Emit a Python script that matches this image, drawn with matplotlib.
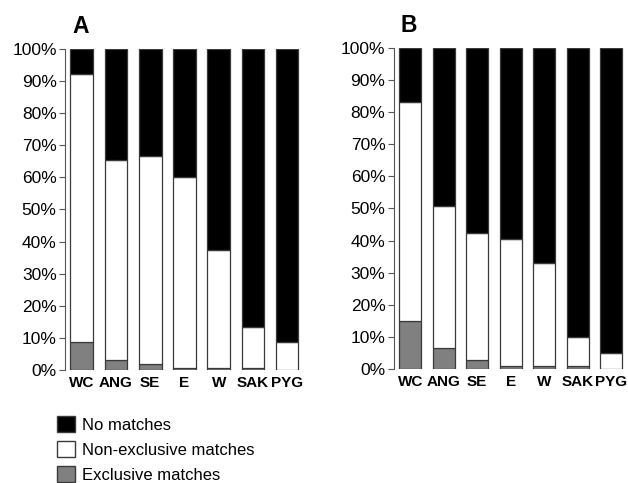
import matplotlib.pyplot as plt
from matplotlib.patches import Patch
from matplotlib.ticker import PercentFormatter

plt.rcParams['font.family'] = ['Liberation Sans', 'DejaVu Sans']

groups = ['WC', 'ANG', 'SE', 'E', 'W', 'SAK', 'PYG']

# percentages, panel A
excl_a = [8.6, 3.1, 1.9, 0.5, 0.5, 0.5, 0.0]
nonexcl_top_a = [92.0, 65.3, 66.7, 60.1, 37.2, 13.3, 8.6]
# panel B
excl_b = [15.0, 6.4, 2.7, 1.0, 1.0, 1.0, 0.0]
nonexcl_top_b = [83.0, 50.9, 42.3, 40.6, 33.0, 9.9, 4.9]

edge = '#3a3a3a'
grey = '#808080'

fig = plt.figure(figsize=(6.28, 4.83), dpi=100)
ax_a = fig.add_axes([0.1035, 0.234, 0.381, 0.665])
ax_b = fig.add_axes([0.627, 0.236, 0.373, 0.665])


def draw(ax, excl, top, label):
    x = range(len(groups))
    nonexcl = [t - e for t, e in zip(top, excl)]
    nomatch = [100 - t for t in top]
    ax.bar(x, excl, width=0.66, color=grey, edgecolor=edge, linewidth=0.9)
    ax.bar(x, nonexcl, bottom=excl, width=0.66, color='white', edgecolor=edge, linewidth=0.9)
    ax.bar(x, nomatch, bottom=top, width=0.66, color='black', edgecolor=edge, linewidth=0.9)
    ax.set_xlim(-0.49, len(groups) - 0.5)
    ax.set_ylim(0, 100)
    ax.set_yticks(range(0, 101, 10))
    ax.yaxis.set_major_formatter(PercentFormatter(decimals=0))
    ax.set_xticks(list(x))
    ax.set_xticklabels(groups, fontweight='bold', fontsize=11)
    ax.tick_params(axis='y', labelsize=12.5, length=4, width=0.8, color='#555555', pad=2)
    ax.tick_params(axis='x', length=0, pad=4)
    for s in ['top', 'right', 'bottom']:
        ax.spines[s].set_visible(False)
    ax.spines['left'].set_color('#555555')
    ax.spines['left'].set_linewidth(0.8)
    ax.text(0.03, 1.035, label, transform=ax.transAxes, fontsize=16.5,
            fontweight='bold', va='bottom', ha='left')


draw(ax_a, excl_a, nonexcl_top_a, 'A')
draw(ax_b, excl_b, nonexcl_top_b, 'B')

handles = [Patch(facecolor='black', edgecolor=edge),
           Patch(facecolor='white', edgecolor=edge),
           Patch(facecolor=grey, edgecolor=edge)]
labels = ['No matches', 'Non-exclusive matches', 'Exclusive matches']
fig.legend(handles, labels, loc='upper left', bbox_to_anchor=(0.091, 0.138),
           frameon=False, fontsize=12, handlelength=1.1, handleheight=1.1,
           handletextpad=0.42, labelspacing=0.5, borderaxespad=0, borderpad=0)

fig.savefig('out.png', dpi=100)
